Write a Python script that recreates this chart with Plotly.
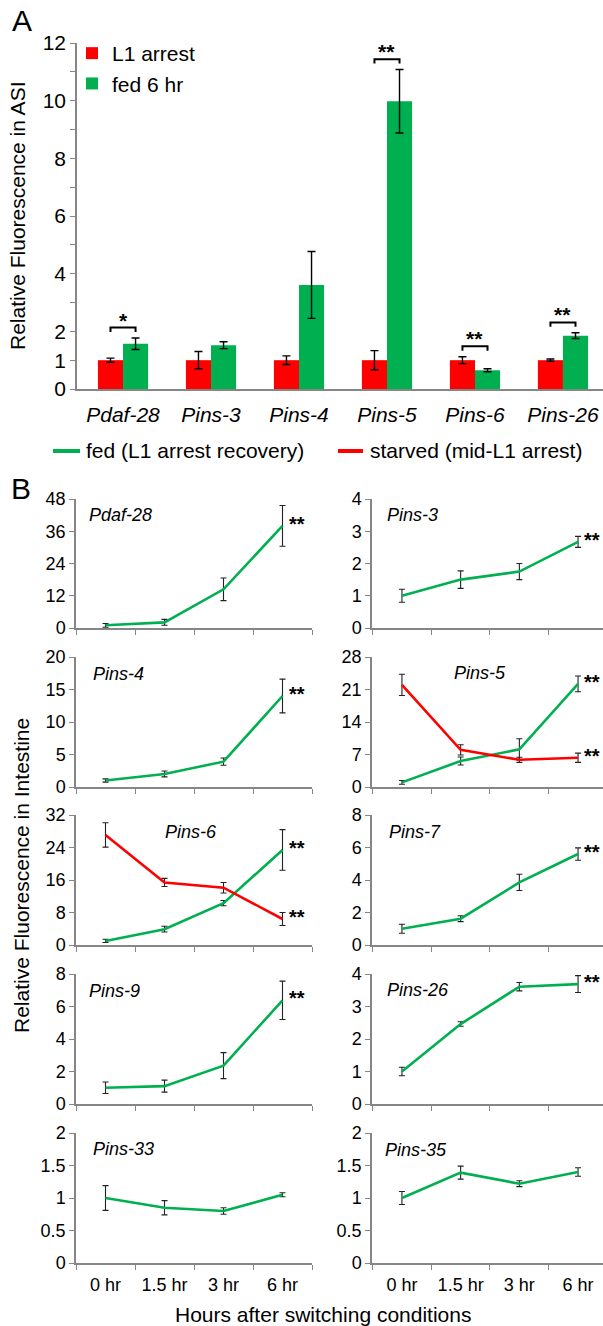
import plotly.graph_objects as go

# ---------------- data ----------------
# Panel A: ASI neurons
asi_genes = ["Pdaf-28", "Pins-3", "Pins-4", "Pins-5", "Pins-6", "Pins-26"]
l1_arrest_mean = [1.0, 1.0, 1.0, 1.0, 1.0, 1.0]
l1_arrest_err = [0.07, 0.30, 0.15, 0.33, 0.12, 0.04]
fed6_mean = [1.57, 1.52, 3.61, 9.98, 0.65, 1.85]
fed6_err = [0.20, 0.12, 1.16, 1.10, 0.05, 0.10]
asi_sig = ["*", "", "", "**", "**", "**"]
asi_ytickvals = [0, 1, 2, 3, 4, 5, 6, 7, 8, 9, 10, 11, 12]
asi_yticktext = ["0", "1", "2", "", "4", "", "6", "", "8", "", "10", "", "12"]

# Panel B: intestine time courses
time_labels = ["0 hr", "1.5 hr", "3 hr", "6 hr"]
int_genes = ["Pdaf-28", "Pins-3", "Pins-4", "Pins-5", "Pins-6",
             "Pins-7", "Pins-9", "Pins-26", "Pins-33", "Pins-35"]
fed_mean = {
    "Pdaf-28": [1.0, 2.1, 14.4, 38.0],
    "Pins-3": [1.0, 1.5, 1.75, 2.67],
    "Pins-4": [1.0, 2.0, 3.9, 14.0],
    "Pins-5": [1.0, 5.6, 8.1, 22.2],
    "Pins-6": [1.0, 3.9, 10.3, 23.4],
    "Pins-7": [1.0, 1.62, 3.85, 5.6],
    "Pins-9": [1.0, 1.1, 2.36, 6.38],
    "Pins-26": [1.0, 2.46, 3.61, 3.69],
    "Pins-33": [1.0, 0.85, 0.80, 1.05],
    "Pins-35": [1.0, 1.39, 1.22, 1.40],
}
fed_err = {
    "Pdaf-28": [0.7, 1.1, 4.2, 7.6],
    "Pins-3": [0.2, 0.27, 0.25, 0.17],
    "Pins-4": [0.25, 0.45, 0.55, 2.6],
    "Pins-5": [0.4, 0.85, 2.3, 1.7],
    "Pins-6": [0.4, 0.7, 0.65, 5.0],
    "Pins-7": [0.28, 0.18, 0.5, 0.38],
    "Pins-9": [0.35, 0.37, 0.8, 1.18],
    "Pins-26": [0.13, 0.07, 0.13, 0.26],
    "Pins-33": [0.19, 0.11, 0.05, 0.03],
    "Pins-35": [0.1, 0.1, 0.045, 0.065],
}
starved_mean = {
    "Pins-5": [22.0, 8.0, 5.86, 6.3],
    "Pins-6": [27.1, 15.4, 14.1, 6.4],
}
starved_err = {
    "Pins-5": [2.3, 1.1, 0.55, 1.0],
    "Pins-6": [3.0, 1.0, 1.3, 1.6],
}
fed_sig = {"Pdaf-28": "**", "Pins-3": "**", "Pins-4": "**", "Pins-5": "**",
           "Pins-6": "**", "Pins-7": "**", "Pins-9": "**", "Pins-26": "**",
           "Pins-33": "", "Pins-35": ""}
starved_sig = {"Pins-5": "**", "Pins-6": "**"}
int_ymax = [48, 4, 20, 28, 32, 8, 8, 4, 2, 2]
int_dtick = [12, 1, 5, 7, 8, 2, 2, 1, 0.5, 0.5]
series_b = ["fed (L1 arrest recovery)", "starved (mid-L1 arrest)"]

# ---------------- style ----------------
W, H = 603, 1326
RED = "#FF0000"
GREEN = "#00B050"
GRAY = "#868686"
FONT = "Liberation Sans, Arial, sans-serif"


def fx(p):
    return p / W


def fy(p):
    return 1 - p / H


fig = go.Figure()

# ---------------- Panel A ----------------
fig.add_trace(go.Bar(
    x=asi_genes, y=l1_arrest_mean, name="L1 arrest", marker_color=RED,
    marker_line_width=0,
    error_y=dict(type="data", array=l1_arrest_err, color="black", thickness=1.4, width=4),
    xaxis="x", yaxis="y", legend="legend"))
fig.add_trace(go.Bar(
    x=asi_genes, y=fed6_mean, name="fed 6 hr", marker_color=GREEN,
    marker_line_width=0,
    error_y=dict(type="data", array=fed6_err, color="black", thickness=1.4, width=4),
    xaxis="x", yaxis="y", legend="legend"))

shapes = []
annotations = []
half = (1 - 0.43) / 4  # offset of each bar centre within group
tick_drop = 0.15
for i, s in enumerate(asi_sig):
    if not s:
        continue
    top = max(l1_arrest_mean[i] + l1_arrest_err[i], fed6_mean[i] + fed6_err[i]) + 0.36
    x0, x1 = i - half, i + half
    shapes.append(dict(type="path", xref="x", yref="y",
                       path=f"M {x0},{top - tick_drop} L {x0},{top} L {x1},{top} L {x1},{top - tick_drop}",
                       line=dict(color="black", width=2)))
    annotations.append(dict(x=i, y=top, xref="x", yref="y", text=f"<b>{s}</b>",
                            showarrow=False, xanchor="center", yanchor="bottom", yshift=-6,
                            font=dict(size=21, color="black", family=FONT)))

# ---------------- Panel B ----------------
row_tops = [499, 657, 815, 974, 1133]
row_bots = [628, 787, 945, 1104, 1263]
col_x = [(76, 312), (372, 603)]
col_range = [[-0.5, 3.5], [-0.51, 3.425]]
label_pos = {
    "Pdaf-28": (87, 515, "left"), "Pins-3": (385, 515, "left"),
    "Pins-4": (91, 674, "left"), "Pins-5": (480, 673, "center"),
    "Pins-6": (191, 832, "center"), "Pins-7": (387, 832, "left"),
    "Pins-9": (87, 991, "left"), "Pins-26": (385, 990, "left"),
    "Pins-33": (91, 1149, "left"), "Pins-35": (383, 1150, "left"),
}

layout_axes = {}
for k, g in enumerate(int_genes):
    n = k + 2
    r, c = k // 2, k % 2
    xa, ya = f"x{n}", f"y{n}"
    fig.add_trace(go.Scatter(
        x=time_labels, y=fed_mean[g], mode="lines", name=series_b[0],
        line=dict(color=GREEN, width=2.6),
        error_y=dict(type="data", array=fed_err[g], color="#222222", thickness=1.1, width=3),
        xaxis=xa, yaxis=ya, showlegend=False))
    if g in starved_mean:
        fig.add_trace(go.Scatter(
            x=time_labels, y=starved_mean[g], mode="lines", name=series_b[1],
            line=dict(color=RED, width=2.6),
            error_y=dict(type="data", array=starved_err[g], color="#222222", thickness=1.1, width=3),
            xaxis=xa, yaxis=ya, showlegend=False))
        if starved_sig.get(g):
            annotations.append(dict(x=time_labels[-1], y=starved_mean[g][-1], xref=xa, yref=ya,
                                    text=f"<b>{starved_sig[g]}</b>", showarrow=False,
                                    xanchor="left", yanchor="middle", xshift=4, yshift=2,
                                    font=dict(size=20, color="black", family=FONT)))
    if fed_sig.get(g):
        annotations.append(dict(x=time_labels[-1], y=fed_mean[g][-1], xref=xa, yref=ya,
                                text=f"<b>{fed_sig[g]}</b>", showarrow=False,
                                xanchor="left", yanchor="middle", xshift=4, yshift=2,
                                font=dict(size=20, color="black", family=FONT)))
    lx, ly, la = label_pos[g]
    annotations.append(dict(x=fx(lx), y=fy(ly), xref="paper", yref="paper",
                            text=f"<i>{g}</i>", showarrow=False, xanchor=la, yanchor="middle",
                            font=dict(size=18, color="black", family=FONT)))

    layout_axes[f"xaxis{n}"] = dict(
        domain=[fx(col_x[c][0]), fx(col_x[c][1])], anchor=ya, type="category",
        categoryorder="array", categoryarray=time_labels, range=col_range[c],
        showline=True, linecolor=GRAY, linewidth=1.5, ticks="outside", tickson="boundaries",
        ticklen=5, tickcolor=GRAY, tickwidth=1.2, showgrid=False, zeroline=False,
        automargin=False, ticklabelstandoff=5,
        showticklabels=(r == 4), tickfont=dict(size=18, color="black", family=FONT))
    layout_axes[f"yaxis{n}"] = dict(
        domain=[fy(row_bots[r]), fy(row_tops[r])], anchor=xa,
        range=[0, int_ymax[k]], dtick=int_dtick[k], tick0=0,
        showline=True, linecolor=GRAY, linewidth=1.5, ticks="outside", ticklen=5,
        tickcolor=GRAY, tickwidth=1.2, showgrid=False, zeroline=False,
        automargin=False,
        tickfont=dict(size=18, color="black", family=FONT))

# Panel B legend (line swatches + labels)
legend_b = [(53, 80, 84, GREEN, series_b[0]), (338, 363, 368, RED, series_b[1])]
for x0, x1, xt, col, txt in legend_b:
    shapes.append(dict(type="line", xref="paper", yref="paper",
                       x0=fx(x0), x1=fx(x1), y0=fy(451), y1=fy(451),
                       line=dict(color=col, width=4)))
    annotations.append(dict(x=fx(xt), y=fy(450), xref="paper", yref="paper", text=txt,
                            showarrow=False, xanchor="left", yanchor="middle",
                            font=dict(size=21, color="black", family=FONT)))

# ---------------- text labels ----------------
annotations += [
    dict(x=fx(22), y=fy(21), xref="paper", yref="paper", text="A", showarrow=False,
         xanchor="center", yanchor="middle",
         font=dict(size=30, color="black", family=FONT)),
    dict(x=fx(21), y=fy(488), xref="paper", yref="paper", text="B", showarrow=False,
         xanchor="center", yanchor="middle",
         font=dict(size=30, color="black", family=FONT)),
    dict(x=fx(18), y=fy(216), xref="paper", yref="paper", text="Relative Fluorescence in ASI",
         xanchor="center", yanchor="middle",
         textangle=-90, showarrow=False, font=dict(size=21, color="black", family=FONT)),
    dict(x=fx(21), y=fy(876), xref="paper", yref="paper",
         text="Relative Fluorescence in Intestine", xanchor="center", yanchor="middle",
         textangle=-90, showarrow=False, font=dict(size=21, color="black", family=FONT)),
    dict(x=fx(323), y=fy(1314), xref="paper", yref="paper",
         text="Hours after switching conditions", xanchor="center", yanchor="middle",
         showarrow=False, font=dict(size=21, color="black", family=FONT)),
]

fig.update_layout(
    width=W, height=H, margin=dict(l=0, r=0, t=0, b=0, pad=0, autoexpand=False),
    paper_bgcolor="white", plot_bgcolor="white",
    font=dict(family=FONT, color="black"),
    barmode="group", bargap=0.43, bargroupgap=0,
    xaxis=dict(domain=[fx(77), 1], anchor="y", type="category", range=[-0.523, 5.455],
               showline=True, linecolor=GRAY, linewidth=1.5, ticks="", showgrid=False,
               ticklabelstandoff=6, automargin=False,
               tickfont=dict(size=21, color="black", family=FONT, style="italic")),
    yaxis=dict(domain=[fy(389), fy(43)], anchor="x", range=[0, 12],
               tickvals=asi_ytickvals, ticktext=asi_yticktext,
               showline=True, linecolor=GRAY, linewidth=1.5, ticks="outside", ticklen=5,
               tickcolor=GRAY, tickwidth=1.2, showgrid=False, zeroline=False,
               automargin=False,
               tickfont=dict(size=21, color="black", family=FONT)),
    legend=dict(x=fx(72), y=fy(33), xanchor="left", yanchor="top",
                font=dict(size=21, family=FONT, color="black"),
                bgcolor="rgba(0,0,0,0)", tracegroupgap=0),
    shapes=shapes, annotations=annotations,
    **layout_axes,
)

fig.write_html("out.html")
